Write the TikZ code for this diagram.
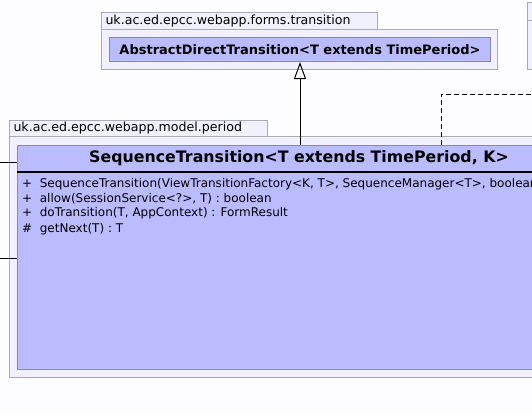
\documentclass[tikz,border=0pt]{standalone}
\usepackage{fontspec}
\setmainfont{DejaVu Sans}
\usepackage{tikz}
\usetikzlibrary{calc,positioning,arrows.meta}

\definecolor{classfill}{RGB}{187,187,255}
\definecolor{classline}{RGB}{136,136,170}
\definecolor{pkgfill}{RGB}{241,241,253}
\definecolor{pkgline}{RGB}{170,170,187}
\definecolor{pagebg}{RGB}{253,253,255}

\begin{document}
\begin{tikzpicture}[
    x=1pt, y=-1pt,
    font=\fontsize{12}{14}\selectfont,
    pkgbox/.style={rectangle, draw=pkgline, fill=pkgfill, line width=1pt, inner sep=0pt, anchor=north west},
    pkgtab/.style={pkgbox, align=left, inner xsep=4pt, font=\fontsize{12.6}{14}\selectfont},
    umlclass/.style={rectangle, draw=classline, fill=classfill, line width=1pt, inner sep=0pt, anchor=north west},
    member/.style={anchor=west, inner sep=0pt, font=\fontsize{12}{14}\selectfont},
    inherit/.style={-{Triangle[open,length=17pt,width=12pt]}, line width=1pt},
    depend/.style={dashed, line width=1pt, dash pattern=on 5pt off 3pt}
]
\fill[pagebg] (0,0) rectangle (532,415);
\clip (0,0) rectangle (532,415);

% package forms.transition
\node[pkgtab, minimum width=276pt, minimum height=17pt, text width=268pt] (FormsTab) at (101,12) {uk.ac.ed.epcc.webapp.forms.transition};
\node[pkgbox, minimum width=396pt, minimum height=40pt] (FormsPkg) at (101,29) {};
\node[umlclass, minimum width=381pt, minimum height=24pt, font=\fontsize{13}{15}\selectfont\bfseries] (Abstract) at (109,37) {AbstractDirectTransition<T extends TimePeriod>};

% package at the right edge
\node[pkgbox, minimum width=40pt, minimum height=18pt] (RightTab) at (527,2) {};
\node[pkgbox, minimum width=40pt, minimum height=49pt] (RightPkg) at (527,20) {};

% package model.period
\node[pkgtab, minimum width=258pt, minimum height=16pt, text width=250pt] (PeriodTab) at (9,120) {uk.ac.ed.epcc.webapp.model.period};
\node[pkgbox, minimum width=600pt, minimum height=241pt] (PeriodPkg) at (9,136) {};
\node[umlclass, minimum width=564pt, minimum height=224pt] (Sequence) at (17,145) {};
\draw[line width=1.5pt] (17,172) -- (581,172);
\node[font=\fontsize{15.8}{18}\selectfont\bfseries, inner sep=0pt] (SequenceName) at (299,158) {SequenceTransition<T extends TimePeriod, K>};
\node[member] (m1) at (22,184) {+\ \ SequenceTransition(ViewTransitionFactory<K, T>, SequenceManager<T>, boolean)};
\node[member] (m2) at (22,198.5) {+\ \ allow(SessionService<?>, T) : boolean};
\node[member] (m3) at (22,213.5) {+\ \ doTransition(T, AppContext) : FormResult};
\node[member] (m4) at (22,229) {\#\ \ getNext(T) : T};

% connectors
\coordinate (LeftA) at (-5,162);
\coordinate (LeftB) at (-5,258);
\coordinate (DepBend) at (441,94);
\coordinate (DepEnd) at (545,94);
\draw[inherit] (Sequence.north -| Abstract.south) -- (Abstract.south);
\draw[depend] (Sequence.north -| DepBend) -- (DepBend) -- (DepEnd);
\draw[line width=1pt] (LeftA) -- (Sequence.west |- LeftA);
\draw[line width=1pt] (LeftB) -- (Sequence.west |- LeftB);
\end{tikzpicture}
\end{document}
